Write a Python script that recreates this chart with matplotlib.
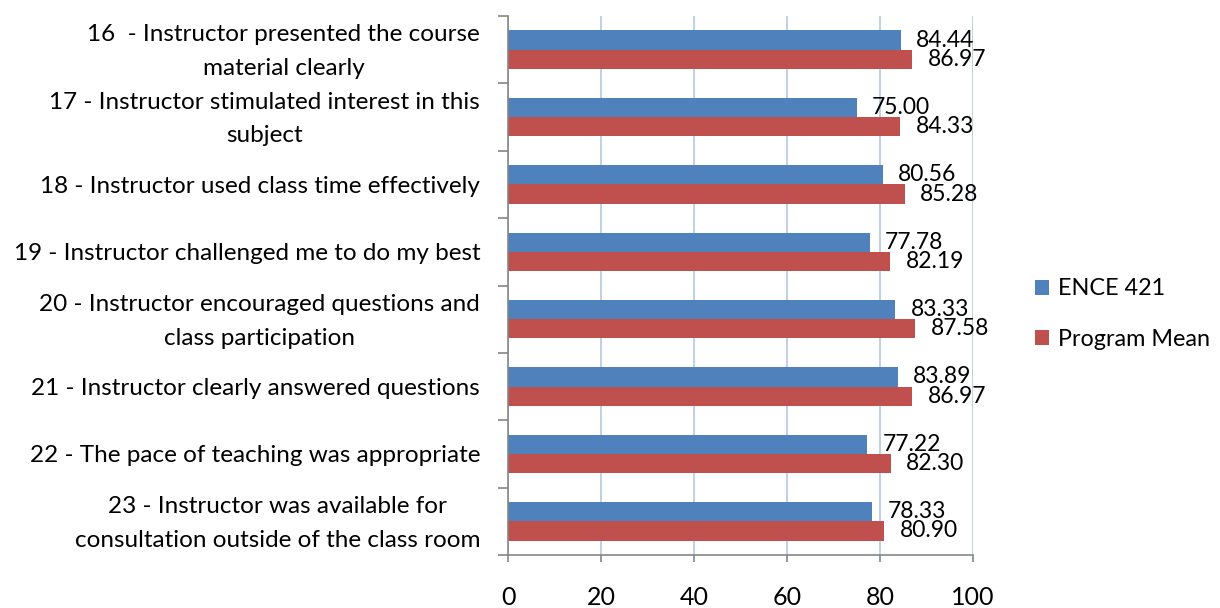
import matplotlib
matplotlib.use("Agg")
import matplotlib.pyplot as plt
import numpy as np

plt.rcParams['font.family'] = ['Lato', 'DejaVu Sans']

questions = [
    "16  - Instructor presented the course\nmaterial clearly",
    "17 - Instructor stimulated interest in this\nsubject",
    "18 - Instructor used class time effectively",
    "19 - Instructor challenged me to do my best",
    "20 - Instructor encouraged questions and\nclass participation",
    "21 - Instructor clearly answered questions",
    "22 - The pace of teaching was appropriate",
    "23 - Instructor was available for\nconsultation outside of the class room",
]
ence_421 = [84.44, 75.00, 80.56, 77.78, 83.33, 83.89, 77.22, 78.33]
program_mean = [86.97, 84.33, 85.28, 82.19, 87.58, 86.97, 82.30, 80.90]
series_names = ["ENCE 421", "Program Mean"]
x_ticks = [0, 20, 40, 60, 80, 100]

blue = "#4F81BD"
red = "#C0504D"
grey = "#868686"

fig = plt.figure(figsize=(12.2, 6.08), dpi=100)
ax = fig.add_axes([508 / 1220, 1 - 555 / 608, 465 / 1220, 539 / 608])

y = np.arange(len(questions))
h = 0.285
b1 = ax.barh(y - h / 2, ence_421, height=h, color=blue, label=series_names[0])
b2 = ax.barh(y + h / 2, program_mean, height=h, color=red, label=series_names[1])
ax.bar_label(b1, fmt="%.2f", padding=11, fontsize=16.5)
ax.bar_label(b2, fmt="%.2f", padding=11, fontsize=16.5)

ax.set_xlim(0, 100)
ax.set_ylim(len(questions) - 0.5, -0.5)

ax.set_xticks(x_ticks)
ax.set_xticklabels([str(t) for t in x_ticks], fontsize=18)
ax.tick_params(axis="x", direction="out", length=5, width=1.2, color=grey, pad=17)

# category boundaries as major ticks, labels on minor ticks at centres
ax.set_yticks(np.arange(-0.5, len(questions), 1.0))
ax.set_yticklabels([])
ax.set_yticks(y + 0.03, minor=True)
ax.set_yticklabels(questions, minor=True, fontsize=17.5)
ax.tick_params(axis="y", which="major", direction="out", length=7, width=1.2, color=grey)
ax.tick_params(axis="y", which="minor", length=0, pad=20)
for lbl in ax.get_yticklabels(minor=True):
    lbl.set_multialignment("center")
    lbl.set_verticalalignment("center")
    lbl.set_linespacing(1.75)

ax.grid(axis="x", color="#B9CDE5", linewidth=1.3)
ax.set_axisbelow(True)
for s in ["top", "right"]:
    ax.spines[s].set_visible(False)
for s in ["left", "bottom"]:
    ax.spines[s].set_color(grey)
    ax.spines[s].set_linewidth(1.2)

fig.legend(handles=[b1, b2], labels=series_names, loc="center left",
           bbox_to_anchor=(1014 / 1220, 1 - 314 / 608), frameon=False,
           fontsize=16.8, handlelength=0.6, handleheight=0.6, handletextpad=0.4,
           labelspacing=1.25)

fig.savefig("out.png", dpi=100)
